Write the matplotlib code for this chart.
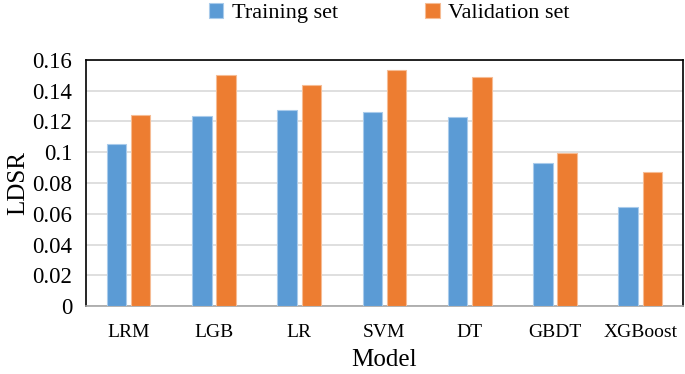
import numpy as np
import matplotlib
matplotlib.use('Agg')
import matplotlib.pyplot as plt

models = ['LRM', 'LGB', 'LR', 'SVM', 'DT', 'GBDT', 'XGBoost']
train = [0.1052, 0.1238, 0.1275, 0.1262, 0.1231, 0.0932, 0.0644]
valid = [0.1242, 0.1504, 0.1435, 0.1533, 0.1489, 0.0997, 0.0874]
yticks = [0, 0.02, 0.04, 0.06, 0.08, 0.1, 0.12, 0.14, 0.16]
ytick_labels = ['0', '0.02', '0.04', '0.06', '0.08', '0.1', '0.12', '0.14', '0.16']

plt.rcParams['font.family'] = ['Liberation Serif', 'DejaVu Serif']

fig = plt.figure(figsize=(6.85, 3.74), dpi=100)
ax = fig.add_axes([0.1255, 0.1818, 0.8715, 0.6578])

x = np.arange(len(models))
w = 0.229
b1 = ax.bar(x - 0.142, train, w, color='#5B9BD5', edgecolor='#A9CBEB', linewidth=0.8,
            label='Training set', zorder=3)
b2 = ax.bar(x + 0.142, valid, w, color='#ED7D31', edgecolor='#F6BC94', linewidth=0.8,
            label='Validation set', zorder=3)

ax.set_xlim(-0.5, len(models) - 0.5)
ax.set_ylim(0, 0.16)
ax.set_yticks(yticks)
ax.set_yticklabels(ytick_labels, fontsize=16.5)
ax.set_xticks(x)
ax.set_xticklabels(models, fontsize=14)
ax.tick_params(axis='both', length=0)
ax.tick_params(axis='x', pad=13)
ax.tick_params(axis='y', pad=10)
ax.yaxis.grid(True, color='#D9D9D9', linewidth=1.2, zorder=0)
ax.set_axisbelow(True)

for s in ['top', 'left', 'right']:
    ax.spines[s].set_color('black')
    ax.spines[s].set_linewidth(1.2)
ax.spines['bottom'].set_color('#A6A6A6')
ax.spines['bottom'].set_linewidth(1.2)

ax.set_xlabel('Model', fontsize=18, labelpad=6)
ax.set_ylabel('LDSR', fontsize=18, labelpad=2)

fig.legend(handles=[b1, b2], loc='center', bbox_to_anchor=(0.5686, 0.965), ncol=2,
           frameon=False, fontsize=16, handlelength=0.65, handleheight=0.65,
           handletextpad=0.4, columnspacing=3.9)

fig.savefig('out.png', dpi=100)
